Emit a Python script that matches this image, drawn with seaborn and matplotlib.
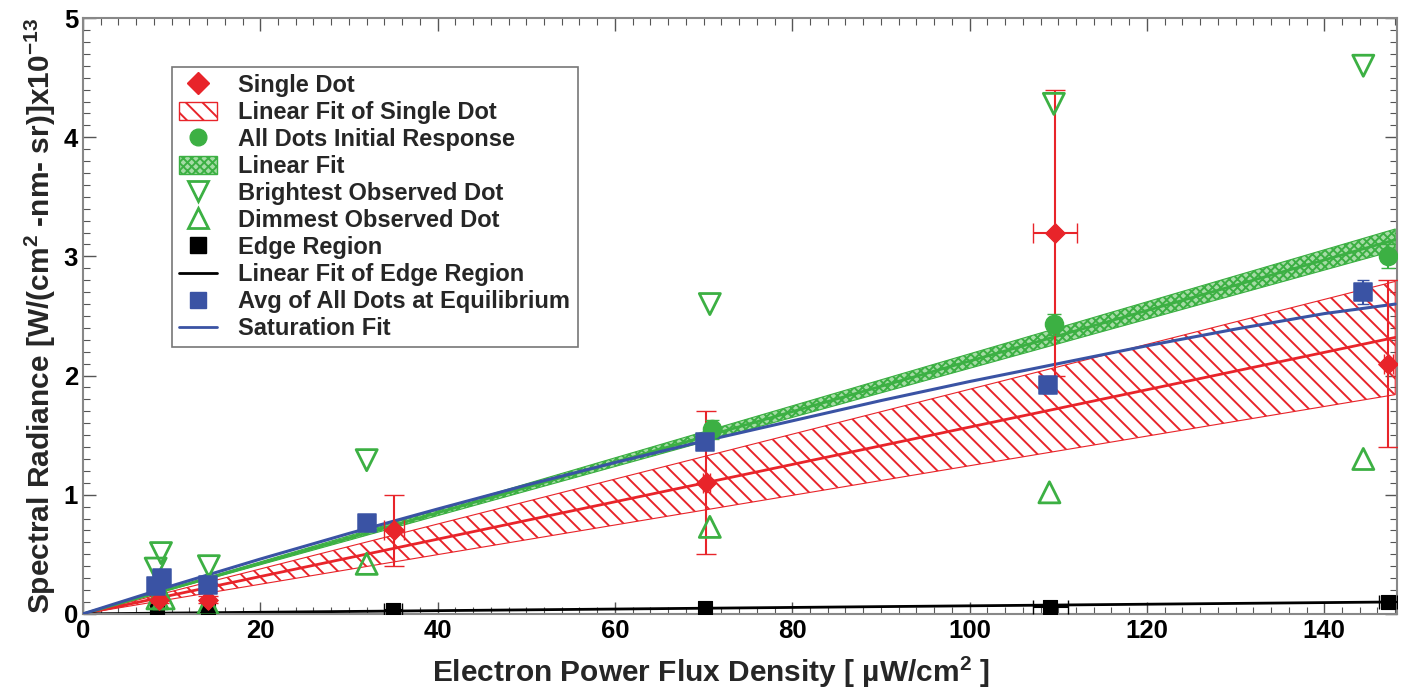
import numpy as np
import pandas as pd
import matplotlib
matplotlib.use('Agg')
import matplotlib.pyplot as plt
from matplotlib.patches import Patch
from matplotlib.lines import Line2D
from matplotlib.ticker import MultipleLocator
import seaborn as sns

# Данные
single_x = [8.6, 14.1, 35.1, 70.3, 109.6, 147.2]
single_y = [0.12, 0.12, 0.70, 1.10, 3.20, 2.10]
single_yerr = [0.03, 0.03, 0.30, 0.60, 1.20, 0.70]
single_xerr = [0.3, 0.3, 1.1, 0.4, 2.5, 0.5]

initial_x = [70.9, 109.5, 147.2]
initial_y = [1.55, 2.43, 3.00]
initial_yerr = [0.08, 0.09, 0.10]

bright_x = [8.2, 8.8, 14.2, 32.0, 70.7, 109.5, 144.4]
bright_y = [0.38, 0.51, 0.40, 1.29, 2.60, 4.28, 4.60]

dim_x = [8.4, 9.1, 14.1, 32.0, 70.7, 109.0, 144.4]
dim_y = [0.13, 0.13, 0.08, 0.42, 0.73, 1.02, 1.30]

edge_x = [8.4, 14.1, 35.0, 70.2, 109.1, 147.2]
edge_y = [0.02, 0.02, 0.03, 0.05, 0.06, 0.10]
edge_xerr = [0.3, 0.3, 1.0, 0.5, 2.0, 1.0]

avg_x = [8.2, 8.9, 14.1, 32.0, 70.1, 108.8, 144.4]
avg_y = [0.23, 0.30, 0.24, 0.76, 1.44, 1.92, 2.70]
avg_yerr = [0.02, 0.02, 0.02, 0.03, 0.04, 0.07, 0.10]

# Линейные подгонки: значения на правом краю (x = 148)
fit_x = [0.0, 148.0]
single_fit = [0.0, 2.32]
single_fit_hi = [0.0, 2.79]
single_fit_lo = [0.0, 1.84]
initial_fit = [0.0, 3.14]
initial_fit_hi = [0.0, 3.23]
initial_fit_lo = [0.0, 3.05]
edge_fit = [0.0, 0.10]

# Кривая насыщения, считанная по точкам
sat_x = [0, 10, 20, 30, 40, 50, 60, 70, 80, 90, 100, 110, 120, 130, 140, 148]
sat_y = [0.0, 0.235, 0.46, 0.675, 0.88, 1.08, 1.27, 1.45, 1.62, 1.79, 1.95, 2.10, 2.25, 2.39, 2.52, 2.60]

RED = '#e8242a'
GREEN = '#3cb043'
GREEN_FILL = '#a6dca6'
BLUE = '#3a53a4'

sns.set_style('ticks')
plt.rcParams['font.family'] = ['Liberation Sans', 'DejaVu Sans']
plt.rcParams['font.weight'] = 'bold'
plt.rcParams['mathtext.default'] = 'regular'
plt.rcParams['hatch.linewidth'] = 1.4

fig = plt.figure(figsize=(14.06, 6.96), dpi=100)
ax = fig.add_axes([0.059, 0.118, 0.9346, 0.856])

# Полосы подгонки
ax.fill_between(fit_x, single_fit_lo, single_fit_hi, facecolor='none',
                edgecolor=RED, hatch='\\\\', linewidth=0.8, zorder=1)
ax.fill_between(fit_x, initial_fit_lo, initial_fit_hi, facecolor=GREEN_FILL,
                edgecolor=GREEN, hatch='xxxx', linewidth=0.8, zorder=1)

fits = pd.DataFrame({'x': fit_x * 3,
                     'y': single_fit + initial_fit + edge_fit,
                     'fit': ['single'] * 2 + ['initial'] * 2 + ['edge'] * 2})
sns.lineplot(data=fits, x='x', y='y', hue='fit',
             palette={'single': RED, 'initial': GREEN, 'edge': 'black'},
             linewidth=2, legend=False, ax=ax, zorder=2)
sns.lineplot(x=sat_x, y=sat_y, color=BLUE, linewidth=2.2, ax=ax, zorder=3)

# Полосы ошибок
ax.errorbar(edge_x, edge_y, xerr=edge_xerr, fmt='none', ecolor='black',
            elinewidth=1.5, capsize=5, zorder=4)
ax.errorbar(single_x, single_y, xerr=single_xerr, yerr=single_yerr, fmt='none',
            ecolor=RED, elinewidth=1.5, capsize=7, zorder=4)
ax.errorbar(initial_x, initial_y, yerr=initial_yerr, fmt='none',
            ecolor=GREEN, elinewidth=1.5, capsize=5, zorder=4)
ax.errorbar(avg_x, avg_y, yerr=avg_yerr, fmt='none',
            ecolor=BLUE, elinewidth=1.5, capsize=4, zorder=4)

# Точки
sns.scatterplot(x=edge_x, y=edge_y, marker='s', s=100, color='black',
                edgecolor='black', ax=ax, zorder=5)
sns.scatterplot(x=bright_x, y=bright_y, marker='v', s=230, facecolor='none',
                edgecolor=GREEN, linewidth=2, ax=ax, zorder=5)
sns.scatterplot(x=dim_x, y=dim_y, marker='^', s=230, facecolor='none',
                edgecolor=GREEN, linewidth=2, ax=ax, zorder=5)
sns.scatterplot(x=initial_x, y=initial_y, marker='o', s=170, color=GREEN,
                edgecolor=GREEN, ax=ax, zorder=6)
sns.scatterplot(x=single_x, y=single_y, marker='D', s=100, color=RED,
                edgecolor=RED, ax=ax, zorder=6)
sns.scatterplot(x=avg_x, y=avg_y, marker='s', s=185, color=BLUE,
                edgecolor=BLUE, ax=ax, zorder=7)

ax.set_xlim(0, 148.2)
ax.set_ylim(0, 5)
ax.xaxis.set_major_locator(MultipleLocator(20))
ax.xaxis.set_minor_locator(MultipleLocator(2))
ax.yaxis.set_major_locator(MultipleLocator(1))
ax.yaxis.set_minor_locator(MultipleLocator(0.1))
ax.tick_params(which='both', direction='in', top=True, right=True,
               colors='#555555', labelcolor='black', labelsize=18.5)
ax.tick_params(which='major', length=9, width=1)
ax.tick_params(which='minor', length=5, width=0.8)
for lab in ax.get_xticklabels() + ax.get_yticklabels():
    lab.set_fontweight('bold')
for sp in ax.spines.values():
    sp.set_color('#888888')
    sp.set_linewidth(1.5)

ax.set_xlabel(r'Electron Power Flux Density [ µW/cm$^{2}$ ]', fontsize=21.5,
              fontweight='bold', labelpad=6)
ax.xaxis.set_label_coords(0.478, -0.068)
ax.set_ylabel(r'Spectral Radiance [W/(cm$^{2}$ -nm- sr)]x10$^{-13}$',
              fontsize=21.5, fontweight='bold', labelpad=4)

handles = [
    Line2D([], [], marker='D', color=RED, linestyle='none', markersize=11),
    Patch(facecolor='none', edgecolor=RED, hatch='\\\\'),
    Line2D([], [], marker='o', color=GREEN, linestyle='none', markersize=12),
    Patch(facecolor=GREEN_FILL, edgecolor=GREEN, hatch='xxxx'),
    Line2D([], [], marker='v', color=GREEN, markerfacecolor='none', mew=2,
           linestyle='none', markersize=14),
    Line2D([], [], marker='^', color=GREEN, markerfacecolor='none', mew=2,
           linestyle='none', markersize=14),
    Line2D([], [], marker='s', color='black', linestyle='none', markersize=11),
    Line2D([], [], color='black', linewidth=2),
    Line2D([], [], marker='s', color=BLUE, linestyle='none', markersize=11),
    Line2D([], [], color=BLUE, linewidth=2),
]
labels = ['Single Dot', 'Linear Fit of Single Dot', 'All Dots Initial Response',
          'Linear Fit', 'Brightest Observed Dot', 'Dimmest Observed Dot',
          'Edge Region', 'Linear Fit of Edge Region',
          'Avg of All Dots at Equilibrium', 'Saturation Fit']
leg = ax.legend(handles, labels, loc='upper left', bbox_to_anchor=(0.068, 0.918),
                prop={'weight': 'bold', 'size': 17},
                frameon=True, fancybox=False, edgecolor='#555555',
                handlelength=1.6, handleheight=0.8, handletextpad=0.9,
                labelspacing=0.17, borderpad=0.3, borderaxespad=0)
leg.get_frame().set_linewidth(1.2)

fig.savefig('out.png', dpi=100)
